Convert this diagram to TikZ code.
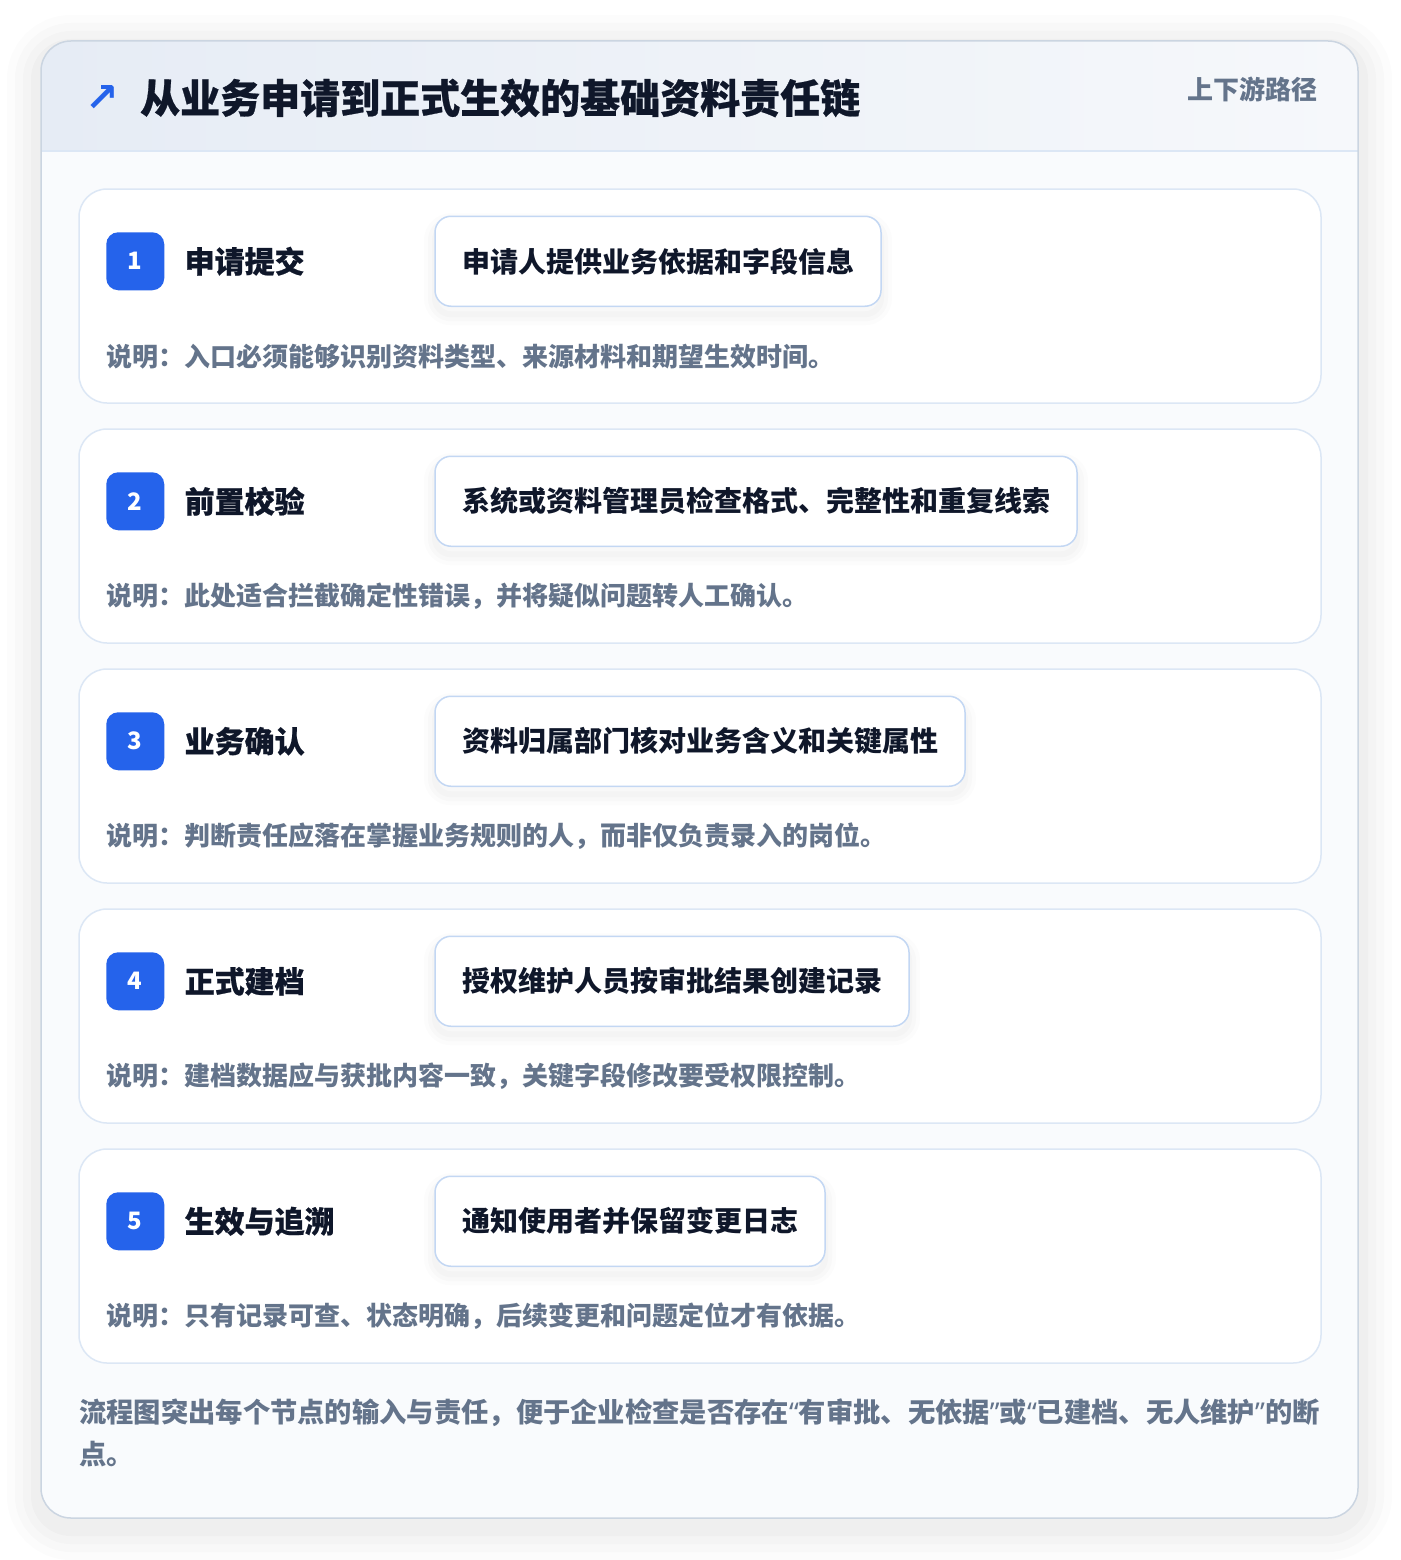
\documentclass[tikz,border=0pt]{standalone}
\usepackage{fontspec}
\setmainfont{Noto Sans CJK SC}
\newfontfamily\heavyfont[BoldFeatures={FakeBold=0.6}]{Noto Sans CJK SC}
\newfontfamily\latinfont{Noto Sans}
\newfontfamily\symfont{DejaVu Sans}
\usetikzlibrary{positioning,calc}

\definecolor{brand}{HTML}{2563EB}
\definecolor{ink}{HTML}{0F172A}
\definecolor{muted}{HTML}{64748B}
\definecolor{cardline}{HTML}{DCE7F5}
\definecolor{boxline}{HTML}{C3D7F3}
\definecolor{frameline}{HTML}{CBD5E1}
\definecolor{panel}{HTML}{F9FBFD}
\definecolor{headL}{HTML}{E6ECF5}
\definecolor{headR}{HTML}{F6F8FB}

\newcommand{\openq}{{\latinfont“}}
\newcommand{\closeq}{{\latinfont”}}

\tikzset{
  rim/.style 2 args={preaction={draw=black, draw opacity=#2, line width=#1,
    transform canvas={yshift=-8pt}}},
  softshadow/.style={rim={22pt}{0.012}, rim={14pt}{0.014}, rim={6pt}{0.016}},
  bigshadow/.style={rim={68pt}{0.012}, rim={52pt}{0.014}, rim={36pt}{0.016},
    rim={20pt}{0.018}},
  stepcard/.style={draw=cardline, line width=1.5pt, fill=white, rounded corners=28pt,
    minimum width=1242pt, minimum height=214pt, inner sep=0pt},
  badge/.style={fill=brand, rounded corners=12pt, minimum size=58pt, inner sep=0pt,
    text=white, font=\bfseries\fontsize{24}{24}\selectfont},
  stepname/.style={anchor=west, inner sep=0pt, text=ink,
    font=\heavyfont\bfseries\fontsize{30}{30}\selectfont},
  actbox/.style={anchor=west, draw=boxline, line width=1.5pt, fill=white,
    rounded corners=16pt, minimum height=90pt, inner xsep=27pt, inner ysep=0pt, text=ink,
    font=\bfseries\fontsize{28}{28}\selectfont, softshadow},
  note/.style={anchor=west, inner sep=0pt, text=muted,
    font=\bfseries\fontsize{26}{26}\selectfont},
}

\begin{document}
\begin{tikzpicture}[x=1pt, y=-1pt]
  \useasboundingbox[fill=white] (0,0) rectangle (1400,1560);

  % outer frame and header band
  \path[fill=white, rounded corners=30pt, bigshadow] (41,41) rectangle (1358,1518);
  \begin{scope}
    \clip[rounded corners=30pt] (41,41) rectangle (1358,1518);
    \fill[panel] (41,151) rectangle (1358,1518);
    \shade[left color=headL, right color=headR] (41,41) rectangle (1358,151);
    \draw[cardline, line width=1.5pt] (41,151) -- (1358,151);
  \end{scope}
  \draw[frameline, line width=1.5pt, rounded corners=30pt] (41,41) rectangle (1358,1518);

  \node[text=brand, inner sep=0pt, font=\symfont\bfseries\fontsize{40}{40}\selectfont]
    (icon) at (102,99) {↗};
  \node[anchor=west, inner sep=0pt, text=ink, font=\heavyfont\bfseries\fontsize{40}{40}\selectfont]
    (title) at (140,98) {从业务申请到正式生效的基础资料责任链};
  \node[anchor=east, inner sep=0pt, text=muted, font=\bfseries\fontsize{26}{26}\selectfont]
    (route) at (1318,89) {上下游路径};

  % steps
  \foreach \i/\name/\act/\note in {
      1/申请提交/申请人提供业务依据和字段信息/说明：入口必须能够识别资料类型、来源材料和期望生效时间。,
      2/前置校验/系统或资料管理员检查格式、完整性和重复线索/说明：此处适合拦截确定性错误，并将疑似问题转人工确认。,
      3/业务确认/资料归属部门核对业务含义和关键属性/说明：判断责任应落在掌握业务规则的人，而非仅负责录入的岗位。,
      4/正式建档/授权维护人员按审批结果创建记录/说明：建档数据应与获批内容一致，关键字段修改要受权限控制。,
      5/生效与追溯/通知使用者并保留变更日志/说明：只有记录可查、状态明确，后续变更和问题定位才有依据。} {
    \node[stepcard] (card\i) at (700,{296+240*(\i-1)}) {};
    \node[badge] (badge\i) at ($(card\i.north west)+(57,73)$) {\i};
    \node[stepname, right=20pt of badge\i] (name\i) {\name};
    \node[actbox] (act\i) at ($(card\i.north west)+(356,73)$) {\act};
    \node[note] (note\i) at ($(badge\i.west)+(0,95)$) {\note};
  }

  \node[anchor=north west, inner sep=0pt, text=muted, align=left,
    font=\bfseries\fontsize{27.3}{42}\selectfont]
    (summary) at (79,1399)
    {流程图突出每个节点的输入与责任，便于企业检查是否存在\openq 有审批、无依据\closeq 或\openq 已建档、无人维护\closeq 的断\\点。};
\end{tikzpicture}
\end{document}
